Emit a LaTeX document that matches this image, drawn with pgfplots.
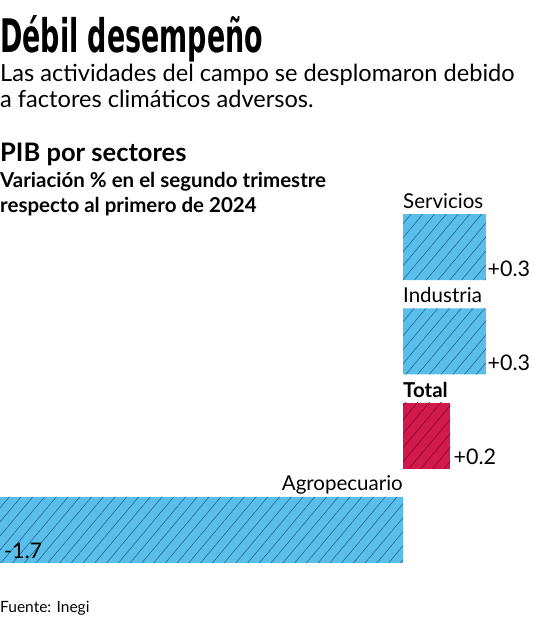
\documentclass[border=0pt]{standalone}
\usepackage{pgfplots}
\pgfplotsset{compat=1.18}
\usetikzlibrary{patterns.meta}
\usepackage{fontspec}
\setmainfont{Lato}
\newfontfamily\titlefont{DejaVu Sans Condensed}

\definecolor{barblue}{RGB}{90,190,235}
\definecolor{hatchblue}{RGB}{35,95,140}
\definecolor{barred}{RGB}{210,25,75}
\definecolor{hatchred}{RGB}{120,10,40}

\begin{document}
\begin{tikzpicture}[x=1pt,y=1pt]
\useasboundingbox (0,0) rectangle (532,620);

% titles
\node[anchor=base west,inner sep=0pt] at (0,567)
  {\resizebox{263pt}{37pt}{\titlefont\bfseries Débil desempeño}};
\node[anchor=base west,inner sep=0pt,font=\fontsize{23.6}{23.6}\selectfont] at (0,538)
  {Las actividades del campo se desplomaron debido};
\node[anchor=base west,inner sep=0pt,font=\fontsize{23.6}{23.6}\selectfont] at (0,512)
  {a factores climáticos adversos.};
\node[anchor=base west,inner sep=0pt,font=\fontsize{25.5}{25.5}\selectfont\bfseries] at (0,458)
  {PIB por sectores};
\node[anchor=base west,inner sep=0pt,font=\fontsize{20.5}{20.5}\selectfont\bfseries] at (0,432)
  {Variación \% en el segundo trimestre};
\node[anchor=base west,inner sep=0pt,font=\fontsize{20.5}{20.5}\selectfont\bfseries] at (0,407)
  {respecto al primero de 2024};
\node[anchor=base west,inner sep=0pt,font=\fontsize{15.5}{15.5}\selectfont] at (0,8)
  {Fuente: Inegi};

\begin{axis}[
    at={(0,5.72)}, anchor=south west,
    x=237.06pt, y=94.2pt,
    xmin=-1.7, xmax=0.5442,
    ymin=-0.9, ymax=3.9,
    hide axis,
    clip=false,
    xbar,
    bar width=66pt,
    bar shift=0pt,
]

% Agropecuario (0), Industria (2), Servicios (3)
\addplot[draw=none, fill=barblue,
  postaction={pattern={Lines[angle=50,distance=9pt,line width=0.55pt]}, pattern color=hatchblue}]
  coordinates {(-1.7,0) (0.35,2) (0.35,3)};
% Total (1)
\addplot[draw=none, fill=barred,
  postaction={pattern={Lines[angle=50,distance=9pt,line width=0.55pt]}, pattern color=hatchred}]
  coordinates {(0.2,1)};

\begin{scope}[font=\fontsize{20.5}{20.5}\selectfont]
\node[anchor=base west,inner sep=0pt] at (axis cs:0,3.41) {Servicios};
\node[anchor=base west,inner sep=0pt] at (axis cs:0,2.41) {Industria};
\node[anchor=base west,inner sep=0pt] at (axis cs:0,1.41) {\bfseries Total};
\node[anchor=base east,inner sep=0pt] at (axis cs:0,0.42) {Agropecuario};
\end{scope}
\begin{scope}[font=\fontsize{21.5}{21.5}\selectfont]
\node[anchor=base west,inner sep=0pt,xshift=1.5pt] at (axis cs:0.35,2.69) {+0.3};
\node[anchor=base west,inner sep=0pt,xshift=1.5pt] at (axis cs:0.35,1.69) {+0.3};
\node[anchor=base west,inner sep=0pt,xshift=3pt] at (axis cs:0.2,0.69) {+0.2};
\node[anchor=base west,inner sep=0pt,xshift=4pt] at (axis cs:-1.7,-0.30) {-1.7};
\end{scope}
\end{axis}
\end{tikzpicture}
\end{document}
